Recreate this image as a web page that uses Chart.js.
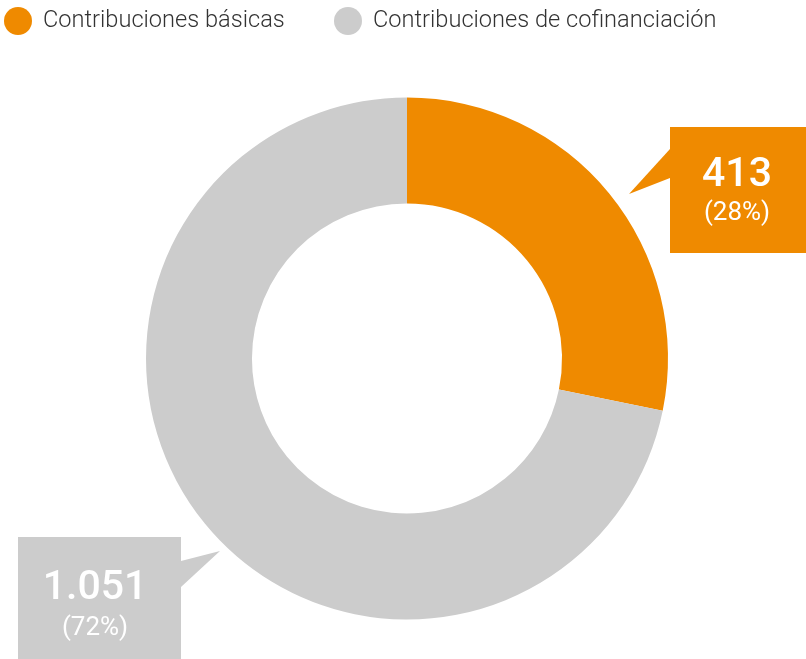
<!DOCTYPE html>
<html>
<head>
<meta charset="utf-8">
<script src="https://cdn.jsdelivr.net/npm/chart.js@4"></script>
<style>
  html, body { margin: 0; padding: 0; background: #fff; }
  #chart { display: block; }
</style>
</head>
<body>
<canvas id="chart" width="806" height="659"></canvas>
<script>
// Data
const categories = ['Contribuciones básicas', 'Contribuciones de cofinanciación'];
const values = [413, 1051];
const colors = ['#EF8A00', '#CCCCCC'];

// where the callout boxes sit (box, pointer, text centre)
const callouts = [
    { x: 670, y: 127, w: 136, h: 126, tip: [629, 194], p1: [670, 149], p2: [670, 178], tx: 737, ty1: 176, ty2: 213 },
    { x: 18, y: 537, w: 163, h: 122, tip: [220, 551], p1: [181, 561], p2: [181, 587], tx: 95, ty1: 589, ty2: 628 }
];

function fmt(n) {
    return String(n).replace(/\B(?=(\d{3})+(?!\d))/g, '.');
}

const total = values.reduce((a, b) => a + b, 0);

// Legend drawn by hand at the top left
const legendPlugin = {
    id: 'topLegend',
    afterDraw(chart) {
        const ctx = chart.ctx;
        const xs = [18, 348];
        ctx.save();
        ctx.font = '300 23.6px Roboto';
        ctx.textBaseline = 'middle';
        categories.forEach((c, i) => {
            ctx.fillStyle = colors[i];
            ctx.beginPath();
            ctx.arc(xs[i], 21, 14, 0, Math.PI * 2);
            ctx.fill();
            ctx.fillStyle = '#333';
            ctx.fillText(c, xs[i] + 25, 21);
        });
        ctx.restore();
    }
};

// Callout boxes with value and percent
const calloutPlugin = {
    id: 'callouts',
    afterDraw(chart) {
        const ctx = chart.ctx;
        ctx.save();
        values.forEach((v, i) => {
            const b = callouts[i];
            ctx.fillStyle = colors[i];
            ctx.fillRect(b.x, b.y, b.w, b.h);
            ctx.beginPath();
            ctx.moveTo(b.p1[0], b.p1[1]);
            ctx.lineTo(b.tip[0], b.tip[1]);
            ctx.lineTo(b.p2[0], b.p2[1]);
            ctx.closePath();
            ctx.fill();

            ctx.fillStyle = '#fff';
            ctx.textAlign = 'center';
            ctx.textBaseline = 'middle';
            ctx.font = '500 41px Roboto';
            ctx.fillText(fmt(v), b.tx, b.ty1);
            ctx.font = '400 26px Roboto';
            ctx.fillText('(' + Math.round(v / total * 100) + '%)', b.tx, b.ty2);
        });
        ctx.restore();
    }
};

new Chart(document.getElementById('chart'), {
    type: 'doughnut',
    data: {
        labels: categories,
        datasets: [{
            data: values,
            backgroundColor: colors,
            borderWidth: 0
        }]
    },
    options: {
        responsive: false,
        animation: false,
        cutout: '59.4%',
        layout: { padding: { left: 146, right: 138, top: 97, bottom: 39 } },
        plugins: {
            legend: { display: false },
            tooltip: { enabled: false }
        }
    },
    plugins: [legendPlugin, calloutPlugin]
});
</script>
</body>
</html>
